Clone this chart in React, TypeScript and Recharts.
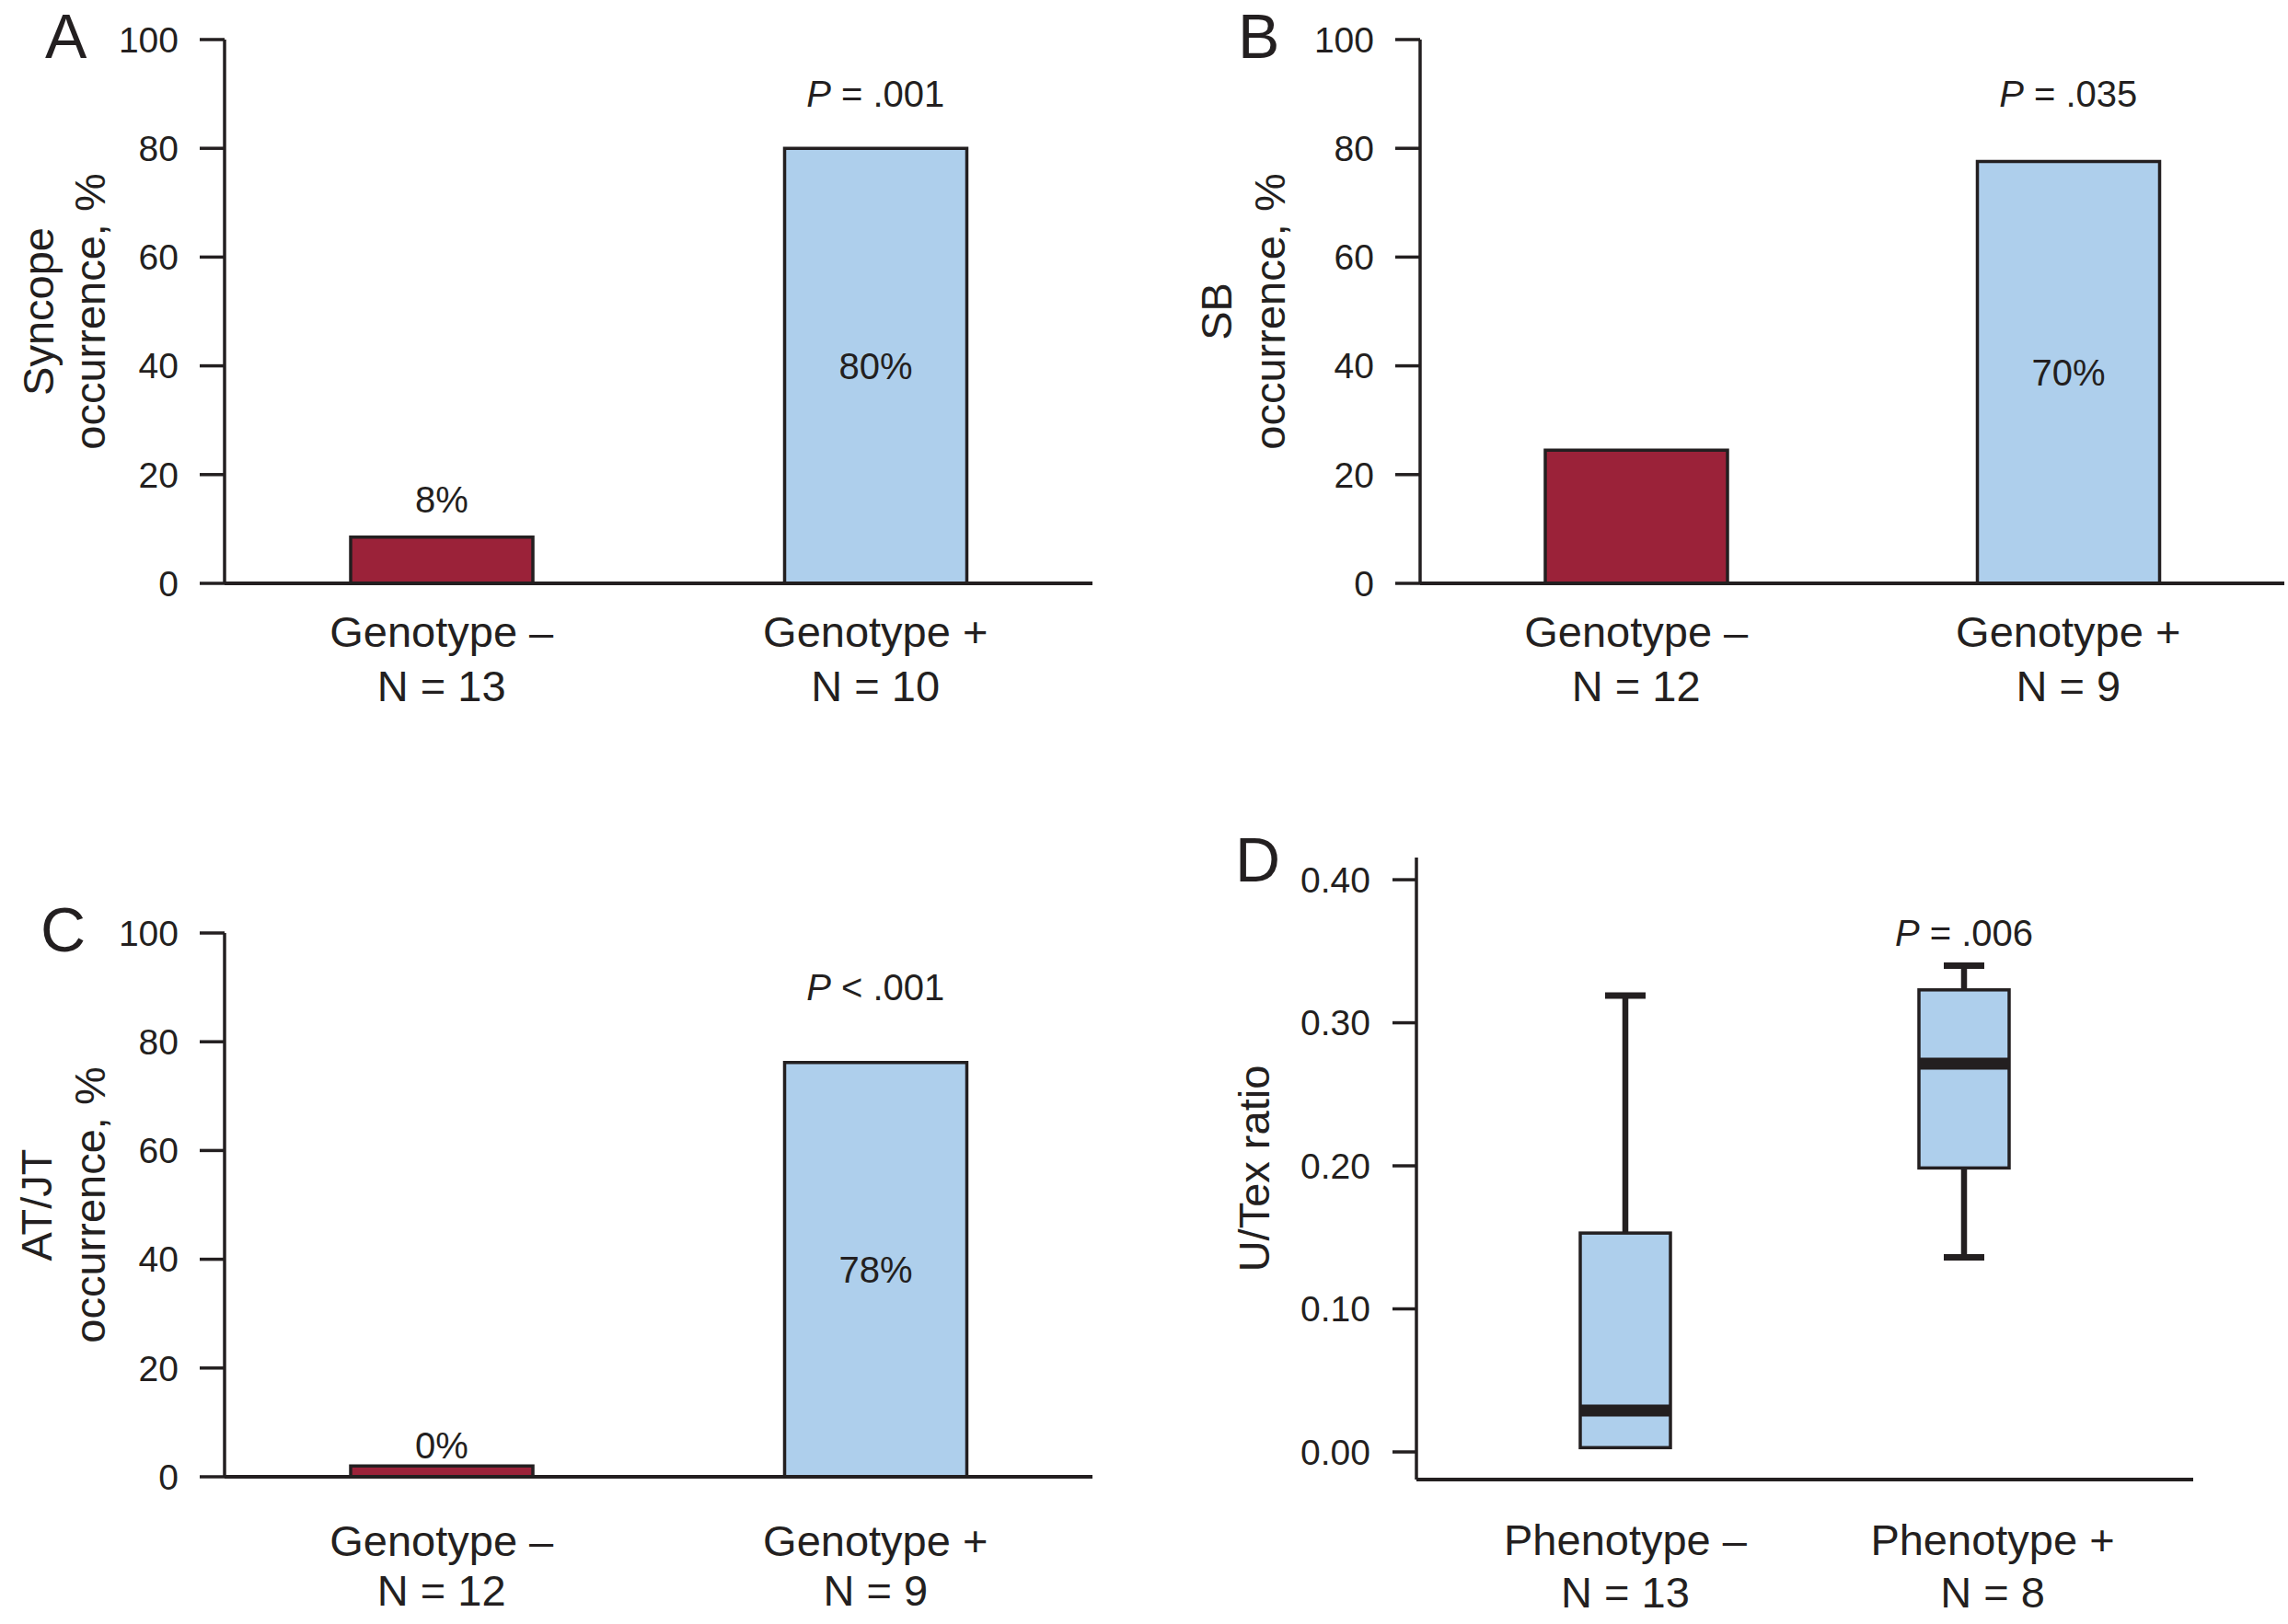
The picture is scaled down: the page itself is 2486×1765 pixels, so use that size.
import React from 'react';
import { BarChart, ComposedChart, Bar, XAxis, YAxis, Cell, LabelList, ReferenceDot } from 'recharts';

const INK = '#231f20';
const RED = '#9b2239';
const BLUE = '#aecfec';
const FONT = '"Liberation Sans", Arial, Helvetica, sans-serif';

// Panel A - syncope
const syncopeGroups = ['Genotype –', 'Genotype +'];
const syncopeN = ['N = 13', 'N = 10'];
const syncopeValues = [8.5, 80];
const syncopeLabels = ['8%', '80%'];

// Panel B - SB
const sbGroups = ['Genotype –', 'Genotype +'];
const sbN = ['N = 12', 'N = 9'];
const sbValues = [24.5, 77.6];
const sbLabels = ['', '70%'];

// Panel C - AT/JT
const atjtGroups = ['Genotype –', 'Genotype +'];
const atjtN = ['N = 12', 'N = 9'];
const atjtValues = [2, 76.2];
const atjtLabels = ['0%', '78%'];

const pctTicks = [0, 20, 40, 60, 80, 100];
const pValueY = 87.7;

// Panel D - U/Tex ratio boxes
const phenoGroups = ['Phenotype –', 'Phenotype +'];
const phenoN = ['N = 13', 'N = 8'];
const uTexMin = [0.003, 0.136];
const uTexQ1 = [0.003, 0.1985];
const uTexMedian = [0.029, 0.2715];
const uTexQ3 = [0.153, 0.323];
const uTexMax = [0.319, 0.34];
const ratioTicks = [0, 0.1, 0.2, 0.3, 0.4];
const ratioDomain = [-0.0193, 0.4155];
const ratioPValueY = 0.354;

const barColors = [RED, BLUE];

const GroupTick = (props: any) => {
  const { x, y, payload, index, ns, dy1, dy2, shift } = props;
  const tx = x + (shift ? shift[index] || 0 : 0);
  return (
    <text x={tx} y={y} textAnchor="middle" fill={INK} fontSize={47} fontFamily={FONT}>
      <tspan x={tx} dy={dy1}>{payload.value}</tspan>
      <tspan x={tx} dy={dy2 - dy1}>{ns[index]}</tspan>
    </text>
  );
};

const axisLabel = (letter: string, letterX: number, letterDy: number, lines: string[], colX: number[]) => (props: any) => {
  const vb = props.viewBox;
  const cy = vb.y + vb.height / 2;
  return (
    <g>
      <text x={letterX} y={vb.y + letterDy} fontSize={68} fill={INK} fontFamily={FONT}>{letter}</text>
      {lines.map((line, i) => (
        <text
          key={i}
          x={colX[i]}
          y={cy}
          dy="0.35em"
          textAnchor="middle"
          transform={`rotate(-90, ${colX[i]}, ${cy})`}
          fontSize={47}
          fill={INK}
          fontFamily={FONT}
        >
          {line}
        </text>
      ))}
    </g>
  );
};

const valueLabel = (gap: number) => (props: any) => {
  const vb = props.viewBox || props;
  const { x, y, width, height } = vb;
  const text = props.value;
  if (!text) return null;
  const cx = x + width / 2;
  if (height < 120) {
    return (
      <text x={cx} y={y - gap} textAnchor="middle" fontSize={40} fill={INK} fontFamily={FONT}>{text}</text>
    );
  }
  return (
    <text x={cx} y={y + height / 2} dy="0.35em" textAnchor="middle" fontSize={40} fill={INK} fontFamily={FONT}>{text}</text>
  );
};

const pLabel = (rest: string) => (props: any) => {
  const vb = props.viewBox;
  const cx = vb.x + vb.width / 2;
  const cy = vb.y + vb.height / 2;
  return (
    <text x={cx} y={cy} textAnchor="middle" fontSize={40} fill={INK} fontFamily={FONT}>
      <tspan fontStyle="italic">P</tspan>
      <tspan>{rest}</tspan>
    </text>
  );
};

const BarPanel = (props: any) => {
  const { left, top, height, margin, xAxisHeight, groups, ns, values, labels, pText, letter, letterX, yLines, colX, tickDy, labelGap } = props;
  const data = groups.map((g: string, i: number) => ({ name: g, value: values[i], label: labels[i] }));
  return (
    <div style={{ position: 'absolute', left, top }}>
      <BarChart width={1243} height={height} data={data} margin={margin} barSize={198}>
        <XAxis
          dataKey="name"
          height={xAxisHeight}
          tickLine={false}
          tickSize={0}
          tickMargin={0}
          axisLine={{ stroke: INK, strokeWidth: 4 }}
          interval={0}
          tick={<GroupTick ns={ns} dy1={tickDy[0]} dy2={tickDy[1]} />}
        />
        <YAxis
          width={120}
          domain={[0, 100]}
          ticks={pctTicks}
          interval={0}
          tickSize={27}
          tickMargin={23}
          axisLine={{ stroke: INK, strokeWidth: 3.5 }}
          tickLine={{ stroke: INK, strokeWidth: 3.5 }}
          tick={{ fill: INK, fontSize: 39, fontFamily: FONT }}
          label={{ content: axisLabel(letter, letterX, 20, yLines, colX) }}
        />
        <Bar dataKey="value" stroke={INK} strokeWidth={3.5} isAnimationActive={false}>
          {data.map((_: any, i: number) => (
            <Cell key={i} fill={barColors[i]} />
          ))}
          <LabelList dataKey="label" content={valueLabel(labelGap)} />
        </Bar>
        <ReferenceDot
          x={groups[1]}
          y={pValueY}
          r={1}
          fill="none"
          stroke="none"
          ifOverflow="visible"
          label={{ content: pLabel(pText) }}
        />
      </BarChart>
    </div>
  );
};

const BoxShape = (props: any) => {
  const { x, y, width, height, payload } = props;
  const top = Math.min(y, y + height);
  const h = Math.abs(height);
  const [q1, q3] = payload.box;
  const perUnit = h / (q3 - q1);
  const yOf = (v: number) => top + (q3 - v) * perUnit;
  const cx = x + width / 2;
  const capHalf = 22;
  return (
    <g>
      <line x1={cx} x2={cx} y1={yOf(payload.max)} y2={top} stroke={INK} strokeWidth={6.5} />
      <line x1={cx - capHalf} x2={cx + capHalf} y1={yOf(payload.max)} y2={yOf(payload.max)} stroke={INK} strokeWidth={7} />
      {payload.min < q1 && (
        <g>
          <line x1={cx} x2={cx} y1={top + h} y2={yOf(payload.min)} stroke={INK} strokeWidth={6.5} />
          <line x1={cx - capHalf} x2={cx + capHalf} y1={yOf(payload.min)} y2={yOf(payload.min)} stroke={INK} strokeWidth={7} />
        </g>
      )}
      <rect x={x} y={top} width={width} height={h} fill={BLUE} stroke={INK} strokeWidth={3.5} />
      <line x1={x} x2={x + width} y1={yOf(payload.median)} y2={yOf(payload.median)} stroke={INK} strokeWidth={13} />
    </g>
  );
};

const BoxPanel = () => {
  const data = phenoGroups.map((g, i) => ({
    name: g,
    box: [uTexQ1[i], uTexQ3[i]],
    min: uTexMin[i],
    median: uTexMedian[i],
    max: uTexMax[i],
  }));
  return (
    <div style={{ position: 'absolute', left: 1243, top: 880 }}>
      <ComposedChart width={1243} height={885} data={data} margin={{ top: 52, right: 103, bottom: 57, left: 146 }} barSize={98}>
        <XAxis
          dataKey="name"
          height={100}
          padding={{ left: 43, right: 65 }}
          tickLine={false}
          tickSize={0}
          tickMargin={0}
          axisLine={{ stroke: INK, strokeWidth: 4 }}
          interval={0}
          tick={<GroupTick ns={phenoN} dy1={82} dy2={139} shift={[0, 31]} />}
        />
        <YAxis
          width={150}
          type="number"
          domain={ratioDomain}
          allowDataOverflow
          ticks={ratioTicks}
          interval={0}
          tickFormatter={(v: number) => v.toFixed(2)}
          tickSize={26}
          tickMargin={24}
          axisLine={{ stroke: INK, strokeWidth: 3.5 }}
          tickLine={{ stroke: INK, strokeWidth: 3.5 }}
          tick={{ fill: INK, fontSize: 39, fontFamily: FONT }}
          label={{ content: axisLabel('D', 99, 26, ['U/Tex ratio'], [120]) }}
        />
        <Bar dataKey="box" shape={BoxShape} isAnimationActive={false} />
        <ReferenceDot
          x={phenoGroups[1]}
          y={ratioPValueY}
          r={1}
          fill="none"
          stroke="none"
          ifOverflow="visible"
          label={{ content: pLabel(' = .006') }}
        />
      </ComposedChart>
    </div>
  );
};

export default function App() {
  return (
    <div style={{ position: 'absolute', left: 0, top: 0, width: 2486, height: 1765, background: '#fff', overflow: 'hidden' }}>
      <BarPanel
        left={0}
        top={0}
        height={880}
        margin={{ top: 43, right: 56, bottom: 96, left: 124 }}
        xAxisHeight={150}
        groups={syncopeGroups}
        ns={syncopeN}
        values={syncopeValues}
        labels={syncopeLabels}
        pText=" = .001"
        letter="A"
        letterX={49}
        yLines={['Syncope', 'occurrence, %']}
        colX={[42, 98]}
        tickDy={[69, 128]}
        labelGap={27}
      />
      <BarPanel
        left={1243}
        top={0}
        height={880}
        margin={{ top: 43, right: 4, bottom: 96, left: 180 }}
        xAxisHeight={150}
        groups={sbGroups}
        ns={sbN}
        values={sbValues}
        labels={sbLabels}
        pText=" = .035"
        letter="B"
        letterX={102}
        yLines={['SB', 'occurrence, %']}
        colX={[79, 137]}
        tickDy={[69, 128]}
        labelGap={27}
      />
      <BarPanel
        left={0}
        top={880}
        height={885}
        margin={{ top: 134, right: 56, bottom: 60, left: 124 }}
        xAxisHeight={100}
        groups={atjtGroups}
        ns={atjtN}
        values={atjtValues}
        labels={atjtLabels}
        pText=" < .001"
        letter="C"
        letterX={44}
        yLines={['AT/JT', 'occurrence, %']}
        colX={[40, 98]}
        tickDy={[86, 140]}
        labelGap={8}
      />
      <BoxPanel />
    </div>
  );
}
